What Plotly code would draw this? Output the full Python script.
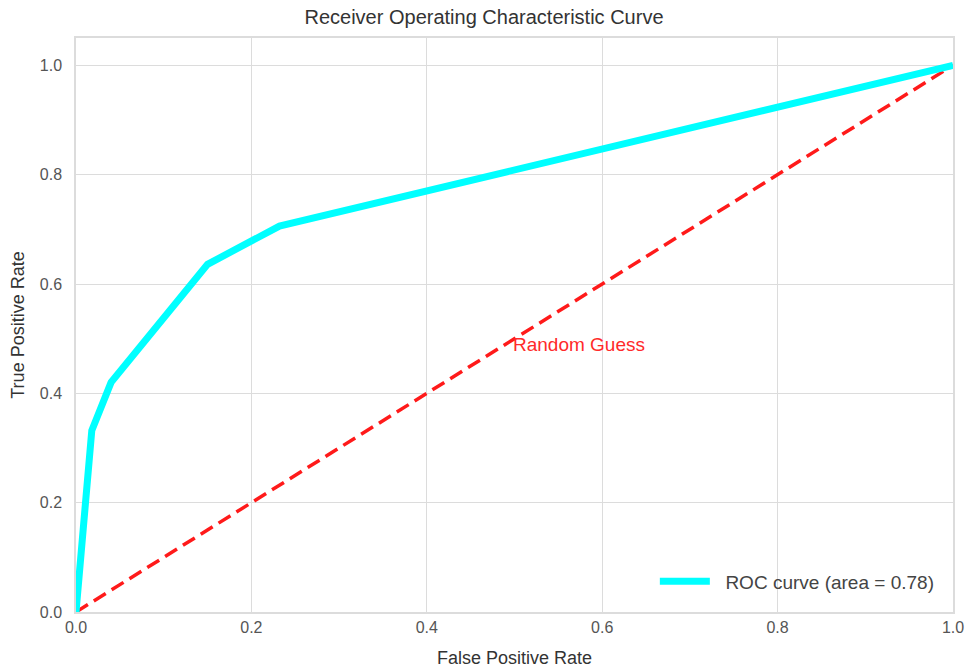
import plotly.graph_objects as go

# ROC curve operating points
fpr = [0.0, 0.018, 0.040, 0.150, 0.232, 1.0]
tpr = [0.0, 0.332, 0.420, 0.636, 0.706, 1.0]
roc_auc = 0.78

# chance line
chance_x = [0.0, 1.0]
chance_y = [0.0, 1.0]

font_family = "Liberation Sans, Arial, sans-serif"
grid_color = "#dcdcdc"

fig = go.Figure()
fig.add_trace(go.Scatter(
    x=chance_x, y=chance_y, mode="lines",
    line=dict(color="#ff1a1a", width=3.5, dash="14px,7px"),
    showlegend=False, hoverinfo="skip",
))
fig.add_trace(go.Scatter(
    x=fpr, y=tpr, mode="lines",
    line=dict(color="#00ffff", width=7),
    name=f"  ROC curve (area = {roc_auc:.2f})",
))

fig.add_annotation(
    x=0.496, y=0.49, text="Random Guess", showarrow=False,
    xanchor="left", yanchor="middle",
    font=dict(family=font_family, size=19, color="#ff2a2a"),
)

fig.update_layout(
    width=968, height=670,
    margin=dict(l=76, r=15, t=38, b=58),
    paper_bgcolor="white", plot_bgcolor="white",
    font=dict(family=font_family, size=15, color="#444"),
    title=dict(text="Receiver Operating Characteristic Curve",
               x=0.5, xanchor="center", y=0.985, yanchor="top",
               font=dict(size=20, color="#333")),
    legend=dict(x=0.985, y=0.02, xanchor="right", yanchor="bottom",
                bgcolor="rgba(0,0,0,0)", font=dict(size=19, color="#444"),
                itemwidth=50),
)

fig.update_xaxes(
    range=[0, 1], tickvals=[0, 0.2, 0.4, 0.6, 0.8, 1.0], tickformat=".1f",
    showgrid=True, gridcolor=grid_color, gridwidth=1.2, zeroline=False,
    showline=True, linecolor=grid_color, linewidth=1.5, mirror=True,
    ticks="", tickfont=dict(size=16, color="#555"), automargin=False,
    title=dict(text="False Positive Rate", font=dict(size=18, color="#333"), standoff=16),
)
fig.update_yaxes(
    range=[0, 1.05], tickvals=[0, 0.2, 0.4, 0.6, 0.8, 1.0], tickformat=".1f",
    showgrid=True, gridcolor=grid_color, gridwidth=1.2, zeroline=False,
    showline=True, linecolor=grid_color, linewidth=1.5, mirror=True,
    ticks="", tickfont=dict(size=16, color="#555"), automargin=False,
    ticklabelstandoff=9,
    title=dict(text="True Positive Rate", font=dict(size=18, color="#333"), standoff=10),
)

fig.write_html("out.html")
